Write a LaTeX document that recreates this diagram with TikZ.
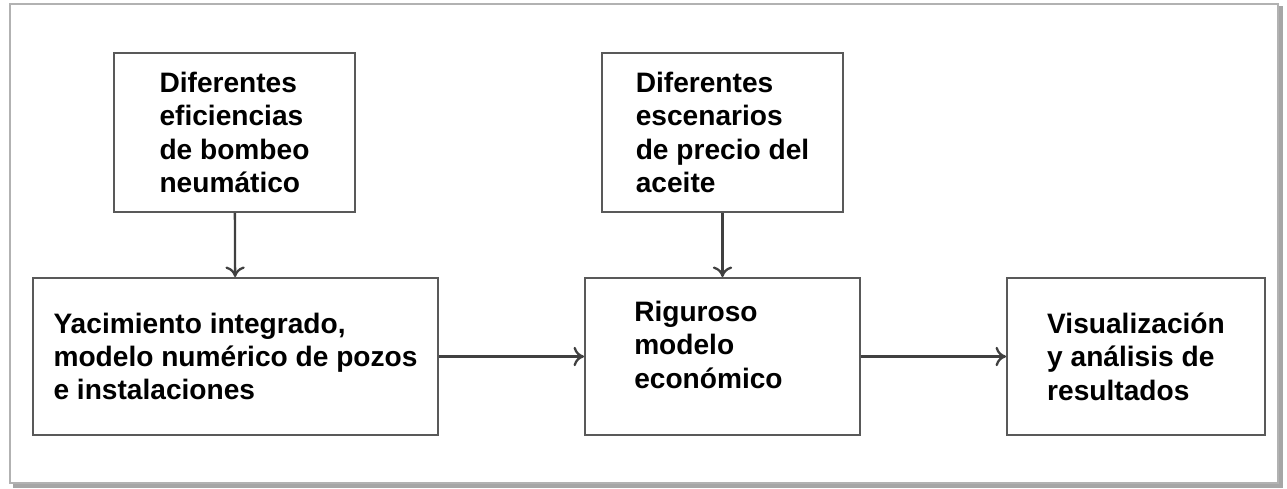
\documentclass[tikz,border=0pt]{standalone}
\usepackage{fontspec}
\setmainfont{Liberation Sans}
\usetikzlibrary{arrows.meta}
\tikzset{
    caja/.style={draw=black!65, line width=1.1pt, align=left, inner sep=0pt,
        font=\fontsize{16}{19}\selectfont\bfseries},
    flecha/.style={draw=black!75, line width=1.3pt, -{To[length=6pt,width=11pt]}}
}
\begin{document}
\begin{tikzpicture}[x=0.02cm, y=0.02cm]
    \useasboundingbox (0,0) rectangle (1287,489);
    % marco exterior
    \draw [black!35, line width=2.5pt] (13,3) -- (1281,3) -- (1281,483);
    \draw [black!30, line width=0.8pt] (10,6) rectangle (1278,485);
    \node [caja, minimum width=4.82cm, minimum height=3.18cm] (efic) at (234.5,356.5)
        {Diferentes\\eficiencias\\de bombeo\\neumático};
    \node [caja, minimum width=8.1cm, minimum height=3.14cm] (yac) at (235.5,132.5)
        {Yacimiento integrado,\\modelo numérico de pozos\\e instalaciones};
    \node [caja, minimum width=4.82cm, minimum height=3.18cm] (precio) at (722.5,356.5)
        {Diferentes\\escenarios\\de precio del\\aceite};
    \node [caja, minimum width=5.5cm, minimum height=3.14cm] (econ) at (722.5,132.5)
        {Riguroso\\modelo\\económico\rule{1em}{0pt}\\[-11pt]\strut};
    \node [caja, minimum width=5.16cm, minimum height=3.14cm] (visual) at (1136,132.5)
        {Visualización\\y análisis de\\resultados};
    \draw [flecha] (efic) -- (yac);
    \draw [flecha] (precio) -- (econ);
    \draw [flecha] (yac) -- (econ);
    \draw [flecha] (econ) -- (visual);
\end{tikzpicture}
\end{document}
